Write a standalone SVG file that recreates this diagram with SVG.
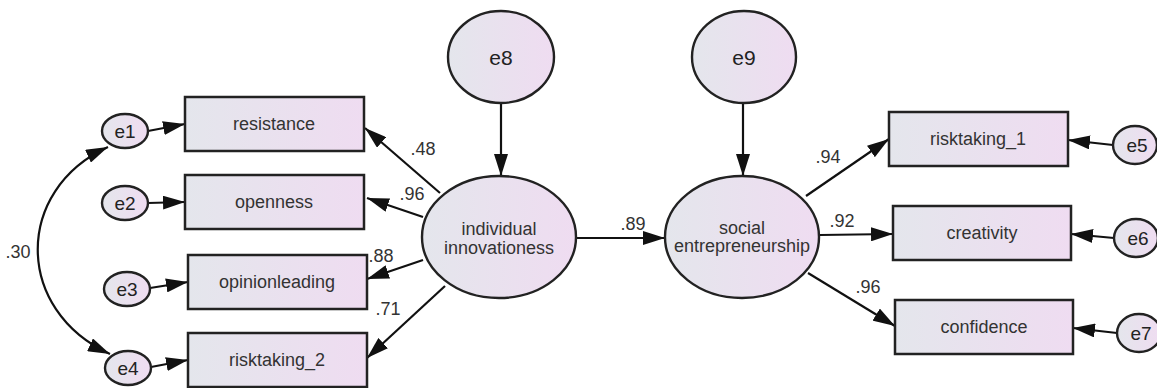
<svg xmlns="http://www.w3.org/2000/svg" width="1157" height="388" viewBox="0 0 1157 388">
<style>
.box{stroke:#222;stroke-width:2.5;fill:url(#g)}
.ell{stroke:#222;stroke-width:2.4;fill:url(#g)}
.lbl{font-family:"Liberation Sans",Arial,sans-serif;font-size:18px;fill:#333;text-anchor:middle}
.elbl{font-family:"Liberation Sans",Arial,sans-serif;font-size:19px;fill:#222;text-anchor:middle}
.num{font-family:"Liberation Sans",Arial,sans-serif;font-size:18px;fill:#333;text-anchor:middle}
.con{stroke:#111;stroke-width:2.2;fill:none;marker-end:url(#ah)}
</style>
<defs>
<linearGradient id="g" x1="0" y1="0" x2="1" y2="0">
<stop offset="0" stop-color="#e4e6ec"/>
<stop offset="1" stop-color="#efdcf1"/>
</linearGradient>
<marker id="ah" viewBox="0 0 22 14" markerWidth="22" markerHeight="14" refX="22" refY="7" orient="auto-start-reverse" markerUnits="userSpaceOnUse">
<path d="M0,0 L22,7 L0,14 z" fill="#111"/>
</marker>
</defs>
<rect width="1157" height="388" fill="#fff"/>

<g id="connectors">
<line class="con" x1="148" y1="131" x2="185" y2="124"/>
<line class="con" x1="148" y1="203" x2="185" y2="202"/>
<line class="con" x1="150" y1="288" x2="188" y2="282"/>
<line class="con" x1="151" y1="367" x2="188" y2="360"/>
<path class="con" d="M108,147 C14,190 14,310 110,354" style="marker-start:url(#ah)"/>
<line class="con" x1="440" y1="193" x2="365" y2="128"/>
<line class="con" x1="423" y1="217" x2="367" y2="198"/>
<line class="con" x1="423" y1="260" x2="367" y2="279"/>
<line class="con" x1="445" y1="286" x2="367" y2="358"/>
<line class="con" x1="501" y1="103" x2="501" y2="176"/>
<line class="con" x1="743" y1="103" x2="743" y2="176"/>
<line class="con" x1="577" y1="238" x2="665" y2="238"/>
<line class="con" x1="806" y1="196" x2="889" y2="139"/>
<line class="con" x1="820" y1="235" x2="893" y2="234"/>
<line class="con" x1="808" y1="273" x2="895" y2="326"/>
<line class="con" x1="1113" y1="145" x2="1068" y2="140"/>
<line class="con" x1="1114" y1="238" x2="1071" y2="234"/>
<line class="con" x1="1117" y1="333" x2="1073" y2="328"/>
</g>

<g id="labels">
<text class="num" x="423" y="155">.48</text>
<text class="num" x="412" y="200">.96</text>
<text class="num" x="381" y="262">.88</text>
<text class="num" x="388" y="315">.71</text>
<text class="num" x="633" y="230">.89</text>
<text class="num" x="828" y="163">.94</text>
<text class="num" x="842" y="227">.92</text>
<text class="num" x="868" y="293">.96</text>
<text class="num" x="18" y="258">.30</text>
</g>

<g id="resistance"><rect class="box" x="185" y="97" width="179" height="54"/><text class="lbl" x="274" y="130">resistance</text></g>
<g id="openness"><rect class="box" x="185" y="175" width="179" height="54"/><text class="lbl" x="274" y="208">openness</text></g>
<g id="opinionleading"><rect class="box" x="188" y="255" width="179" height="54"/><text class="lbl" x="277" y="288">opinionleading</text></g>
<g id="risktaking_2"><rect class="box" x="188" y="333" width="179" height="54"/><text class="lbl" x="277" y="366">risktaking_2</text></g>
<g id="risktaking_1"><rect class="box" x="889" y="112" width="179" height="54"/><text class="lbl" x="978" y="145">risktaking_1</text></g>
<g id="creativity"><rect class="box" x="893" y="206" width="178" height="54"/><text class="lbl" x="982" y="239">creativity</text></g>
<g id="confidence"><rect class="box" x="895" y="300" width="178" height="54"/><text class="lbl" x="984" y="333">confidence</text></g>

<g id="e1"><ellipse class="ell" cx="125" cy="131" rx="23" ry="17"/><text class="elbl" x="125" y="138">e1</text></g>
<g id="e2"><ellipse class="ell" cx="125" cy="203" rx="23" ry="17"/><text class="elbl" x="125" y="210">e2</text></g>
<g id="e3"><ellipse class="ell" cx="127" cy="289" rx="23" ry="17"/><text class="elbl" x="127" y="296">e3</text></g>
<g id="e4"><ellipse class="ell" cx="128" cy="368" rx="23" ry="17"/><text class="elbl" x="128" y="375">e4</text></g>
<g id="e5"><ellipse class="ell" cx="1135" cy="145" rx="22" ry="19"/><text class="elbl" x="1137" y="152">e5</text></g>
<g id="e6"><ellipse class="ell" cx="1136" cy="238" rx="22" ry="19"/><text class="elbl" x="1138" y="245">e6</text></g>
<g id="e7"><ellipse class="ell" cx="1139" cy="333" rx="22" ry="19"/><text class="elbl" x="1141" y="340">e7</text></g>
<g id="e8"><ellipse class="ell" cx="501" cy="57" rx="53" ry="46"/><text class="elbl" x="501" y="65" style="font-size:21px">e8</text></g>
<g id="e9"><ellipse class="ell" cx="744" cy="57" rx="52" ry="46"/><text class="elbl" x="744" y="65" style="font-size:21px">e9</text></g>
<g id="individual"><ellipse class="ell" cx="499" cy="237" rx="77" ry="61"/><text class="lbl" x="499" y="235">individual</text><text class="lbl" x="499" y="254">innovationess</text></g>
<g id="social"><ellipse class="ell" cx="742" cy="237" rx="77" ry="61"/><text class="lbl" x="742" y="234">social</text><text class="lbl" x="742" y="252">entrepreneurship</text></g>
</svg>
